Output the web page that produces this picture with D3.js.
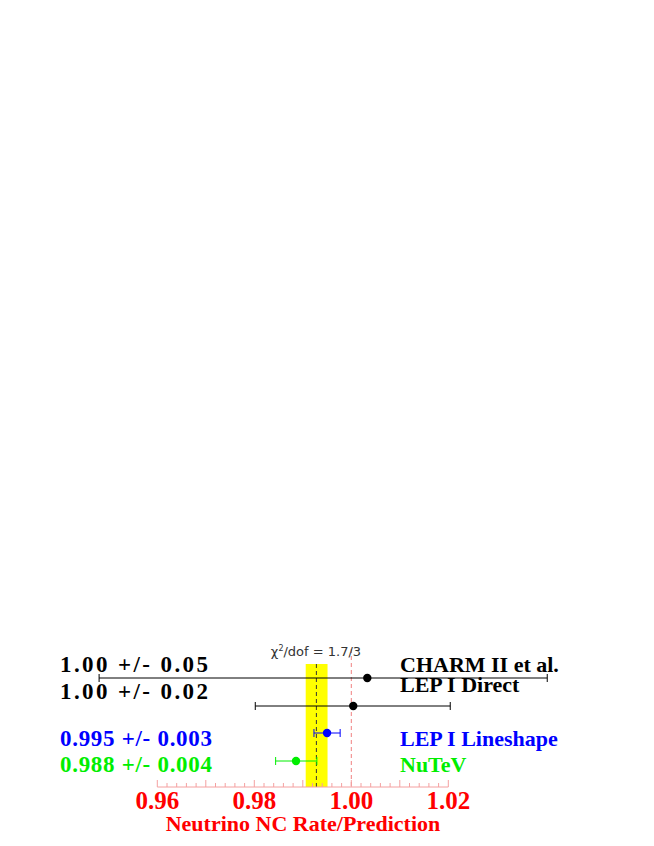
<!DOCTYPE html><html><head><meta charset="utf-8">
<script src="https://cdn.jsdelivr.net/npm/d3@7"></script>
<style>body{margin:0;background:#fff}</style></head><body>
<script>
const names=["CHARM II et al.","LEP I Direct","LEP I Lineshape","NuTeV"];
const leftLabels=["1.00 +/- 0.05","1.00 +/- 0.02","0.995 +/- 0.003","0.988 +/- 0.004"];
const values=[1.0033,1.0004,0.9950,0.9886];
const lows=[0.9480,0.9802,0.9923,0.9844];
const highs=[1.0404,1.0204,0.9977,0.9929];
const colors=["#000","#000","#0000ff","#00ee00"];
const bandLo=0.9906, bandHi=0.9951, bandMid=0.9928;
const tickVals=[0.96,0.98,1.00,1.02];

const svg=d3.select("body").append("svg").attr("width",654).attr("height",846);
const x=d3.scaleLinear().domain([0.96,1.02]).range([157.3,448.3]);
const rowY=[678,706,733,761];
const leftY=[672,696,746,772], rightY=[672,696,746,772];
const leftW=[148,148,152,152];
const axY=787;
svg.append("rect").attr("x",x(bandLo)).attr("width",x(bandHi)-x(bandLo)).attr("y",664).attr("height",axY-664).attr("fill","#ffff00");
svg.append("line").attr("x1",x(bandMid)).attr("x2",x(bandMid)).attr("y1",664).attr("y2",axY).attr("stroke","#333").attr("stroke-dasharray","4,3");
svg.append("line").attr("x1",x(1)).attr("x2",x(1)).attr("y1",649).attr("y2",axY).attr("stroke","#f08080").attr("stroke-dasharray","4,3");
svg.append("text").attr("x",316).attr("y",656).attr("text-anchor","middle").attr("font-family","DejaVu Sans").attr("font-size",13).attr("fill","#333").html('χ<tspan dy="-5" font-size="8">2</tspan><tspan dy="5">/dof = 1.7/3</tspan>');
const ax=svg.append("g").attr("transform",`translate(0,${axY})`);
ax.append("line").attr("x1",x(0.96)).attr("x2",x(1.02)).attr("stroke","#f4a0a0");
d3.range(0,31).forEach(i=>{const v=0.96+i*0.002;const big=i%5===0;
 ax.append("line").attr("x1",x(v)).attr("x2",x(v)).attr("y1",0).attr("y2",big?-7:-4).attr("stroke","#f4a0a0");});
ax.selectAll("text.t").data(tickVals).join("text").attr("x",d=>x(d)).attr("y",22).attr("text-anchor","middle")
 .attr("font-family","Liberation Serif").attr("font-weight","bold").attr("font-size",25).attr("fill","#ff0000").text(d=>d3.format(".2f")(d));
svg.append("text").attr("x",303).attr("y",831).attr("text-anchor","middle").attr("font-family","Liberation Serif").attr("font-weight","bold").attr("font-size",22).attr("fill","#ff0000").text("Neutrino NC Rate/Prediction");
names.forEach((n,i)=>{
 const g=svg.append("g").attr("stroke",colors[i]).attr("fill",colors[i]);
 g.append("line").attr("x1",x(lows[i])).attr("x2",x(highs[i])).attr("y1",rowY[i]).attr("y2",rowY[i]);
 [lows[i],highs[i]].forEach(v=>g.append("line").attr("x1",x(v)).attr("x2",x(v)).attr("y1",rowY[i]-4).attr("y2",rowY[i]+4));
 g.append("circle").attr("cx",x(values[i])).attr("cy",rowY[i]).attr("r",4.2).attr("stroke","none");
 svg.append("text").attr("x",60).attr("y",[672,699,746,772][i]).attr("font-family","Liberation Serif").attr("font-weight","bold").attr("font-size",23)
  .attr("textLength",leftW[i]).attr("lengthAdjust","spacing").attr("fill",colors[i]).text(leftLabels[i]);
 svg.append("text").attr("x",400).attr("y",[672,699,746,772][i]-(i===1?7:0)).attr("font-family","Liberation Serif").attr("font-weight","bold").attr("font-size",22).attr("fill",colors[i]).text(n);
});
</script></body></html>
